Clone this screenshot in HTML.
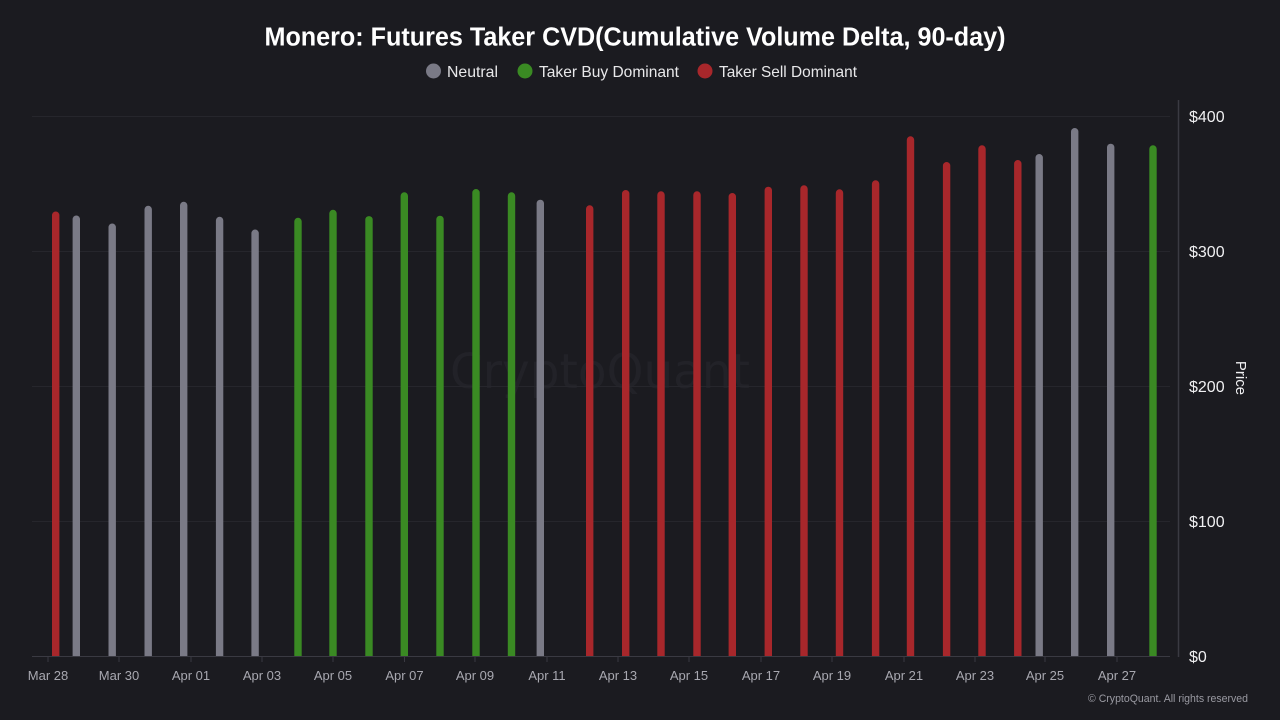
<!DOCTYPE html>
<html><head><meta charset="utf-8"><style>
html,body{margin:0;padding:0;background:#1b1b20;}
svg{display:block;}
text{font-family:"Liberation Sans",Arial,sans-serif;}
text.wm{font-family:"DejaVu Sans",sans-serif;}
</style></head><body>
<svg width="1280" height="720" viewBox="0 0 1280 720" xmlns="http://www.w3.org/2000/svg" font-family="Liberation Sans, Arial, sans-serif">
<rect width="1280" height="720" fill="#1b1b20"/>
<!-- watermark -->
<text class="wm" x="600" y="388" font-size="48" fill="#222228" text-anchor="middle" textLength="300" lengthAdjust="spacingAndGlyphs" font-family="DejaVu Sans, sans-serif">CryptoQuant</text>
<!-- gridlines -->
<g stroke="#26262c" stroke-width="1">
<line x1="32" y1="116.5" x2="1170" y2="116.5"/>
<line x1="32" y1="251.5" x2="1170" y2="251.5"/>
<line x1="32" y1="386.5" x2="1170" y2="386.5"/>
<line x1="32" y1="521.5" x2="1170" y2="521.5"/>
</g>
<line x1="32" y1="656.5" x2="1170" y2="656.5" stroke="#3a3a42" stroke-width="1"/>
<line x1="1178.5" y1="100" x2="1178.5" y2="657" stroke="#3a3a42" stroke-width="1.5"/>
<!-- x ticks -->
<g stroke="#3a3a42" stroke-width="1">
<line x1="48" y1="656" x2="48" y2="662"/><line x1="119" y1="656" x2="119" y2="662"/>
<line x1="191" y1="656" x2="191" y2="662"/><line x1="262" y1="656" x2="262" y2="662"/>
<line x1="333" y1="656" x2="333" y2="662"/><line x1="404.5" y1="656" x2="404.5" y2="662"/>
<line x1="475" y1="656" x2="475" y2="662"/><line x1="547" y1="656" x2="547" y2="662"/>
<line x1="618" y1="656" x2="618" y2="662"/><line x1="689" y1="656" x2="689" y2="662"/>
<line x1="761" y1="656" x2="761" y2="662"/><line x1="832" y1="656" x2="832" y2="662"/>
<line x1="904" y1="656" x2="904" y2="662"/><line x1="975" y1="656" x2="975" y2="662"/>
<line x1="1045" y1="656" x2="1045" y2="662"/><line x1="1117" y1="656" x2="1117" y2="662"/>
</g>
<!-- bars -->
<g>
<path fill="#a8272b" d="M52 656V215.2a3.7 3.7 0 0 1 7.4 0V656Z"/>
<path fill="#7a7a86" d="M72.6 656V219.2a3.7 3.7 0 0 1 7.4 0V656Z"/>
<path fill="#7a7a86" d="M108.5 656V227.2a3.7 3.7 0 0 1 7.4 0V656Z"/>
<path fill="#7a7a86" d="M144.5 656V209.5a3.7 3.7 0 0 1 7.4 0V656Z"/>
<path fill="#7a7a86" d="M180 656V205.5a3.7 3.7 0 0 1 7.4 0V656Z"/>
<path fill="#7a7a86" d="M215.9 656V220.5a3.7 3.7 0 0 1 7.4 0V656Z"/>
<path fill="#7a7a86" d="M251.4 656V233.2a3.7 3.7 0 0 1 7.4 0V656Z"/>
<path fill="#3a8a23" d="M294.3 656V221.5a3.7 3.7 0 0 1 7.4 0V656Z"/>
<path fill="#3a8a23" d="M329.3 656V213.5a3.7 3.7 0 0 1 7.4 0V656Z"/>
<path fill="#3a8a23" d="M365.3 656V219.8a3.7 3.7 0 0 1 7.4 0V656Z"/>
<path fill="#3a8a23" d="M400.6 656V196a3.7 3.7 0 0 1 7.4 0V656Z"/>
<path fill="#3a8a23" d="M436.3 656V219.4a3.7 3.7 0 0 1 7.4 0V656Z"/>
<path fill="#3a8a23" d="M472.3 656V192.7a3.7 3.7 0 0 1 7.4 0V656Z"/>
<path fill="#3a8a23" d="M507.8 656V196a3.7 3.7 0 0 1 7.4 0V656Z"/>
<path fill="#7a7a86" d="M536.6 656V203.4a3.7 3.7 0 0 1 7.4 0V656Z"/>
<path fill="#a8272b" d="M586 656V209a3.7 3.7 0 0 1 7.4 0V656Z"/>
<path fill="#a8272b" d="M622 656V193.7a3.7 3.7 0 0 1 7.4 0V656Z"/>
<path fill="#a8272b" d="M657.3 656V195a3.7 3.7 0 0 1 7.4 0V656Z"/>
<path fill="#a8272b" d="M693.3 656V195a3.7 3.7 0 0 1 7.4 0V656Z"/>
<path fill="#a8272b" d="M728.6 656V196.7a3.7 3.7 0 0 1 7.4 0V656Z"/>
<path fill="#a8272b" d="M764.6 656V190.4a3.7 3.7 0 0 1 7.4 0V656Z"/>
<path fill="#a8272b" d="M800.3 656V189a3.7 3.7 0 0 1 7.4 0V656Z"/>
<path fill="#a8272b" d="M835.8 656V193a3.7 3.7 0 0 1 7.4 0V656Z"/>
<path fill="#a8272b" d="M871.9 656V184a3.7 3.7 0 0 1 7.4 0V656Z"/>
<path fill="#a8272b" d="M906.8 656V140a3.7 3.7 0 0 1 7.4 0V656Z"/>
<path fill="#a8272b" d="M942.9 656V165.7a3.7 3.7 0 0 1 7.4 0V656Z"/>
<path fill="#a8272b" d="M978.3 656V149a3.7 3.7 0 0 1 7.4 0V656Z"/>
<path fill="#a8272b" d="M1014.1 656V163.7a3.7 3.7 0 0 1 7.4 0V656Z"/>
<path fill="#7a7a86" d="M1035.5 656V157.7a3.7 3.7 0 0 1 7.4 0V656Z"/>
<path fill="#7a7a86" d="M1071 656V131.7a3.7 3.7 0 0 1 7.4 0V656Z"/>
<path fill="#7a7a86" d="M1107 656V147.4a3.7 3.7 0 0 1 7.4 0V656Z"/>
<path fill="#3a8a23" d="M1149.3 656V149a3.7 3.7 0 0 1 7.4 0V656Z"/>
</g>
<!-- title -->
<text x="635" y="45.5" font-size="25.5" font-weight="bold" fill="#ffffff" text-anchor="middle" textLength="741" lengthAdjust="spacingAndGlyphs">Monero: Futures Taker CVD(Cumulative Volume Delta, 90-day)</text>
<!-- legend -->
<circle cx="433.5" cy="71" r="7.5" fill="#7a7a86"/>
<text x="447" y="77" font-size="16" fill="#e8e8ea" textLength="51" lengthAdjust="spacingAndGlyphs">Neutral</text>
<circle cx="525" cy="71" r="7.5" fill="#3a8a23"/>
<text x="539" y="77" font-size="16" fill="#e8e8ea" textLength="140" lengthAdjust="spacingAndGlyphs">Taker Buy Dominant</text>
<circle cx="705" cy="71" r="7.5" fill="#a8272b"/>
<text x="719" y="77" font-size="16" fill="#e8e8ea" textLength="138" lengthAdjust="spacingAndGlyphs">Taker Sell Dominant</text>
<!-- y axis labels -->
<g font-size="16" fill="#f0f0f2">
<text x="1189" y="122">$400</text>
<text x="1189" y="257">$300</text>
<text x="1189" y="392">$200</text>
<text x="1189" y="527">$100</text>
<text x="1189" y="662">$0</text>
</g>
<text transform="translate(1236,378) rotate(90)" font-size="15" fill="#f0f0f2" text-anchor="middle">Price</text>
<!-- x labels -->
<g font-size="13" fill="#a8a8b0" text-anchor="middle">
<text x="48" y="680">Mar 28</text>
<text x="119" y="680">Mar 30</text>
<text x="191" y="680">Apr 01</text>
<text x="262" y="680">Apr 03</text>
<text x="333" y="680">Apr 05</text>
<text x="404.5" y="680">Apr 07</text>
<text x="475" y="680">Apr 09</text>
<text x="547" y="680">Apr 11</text>
<text x="618" y="680">Apr 13</text>
<text x="689" y="680">Apr 15</text>
<text x="761" y="680">Apr 17</text>
<text x="832" y="680">Apr 19</text>
<text x="904" y="680">Apr 21</text>
<text x="975" y="680">Apr 23</text>
<text x="1045" y="680">Apr 25</text>
<text x="1117" y="680">Apr 27</text>
</g>
<text x="1248" y="702" font-size="11" fill="#9a9aa2" text-anchor="end" textLength="160" lengthAdjust="spacingAndGlyphs">© CryptoQuant. All rights reserved</text>
</svg>
</body></html>
